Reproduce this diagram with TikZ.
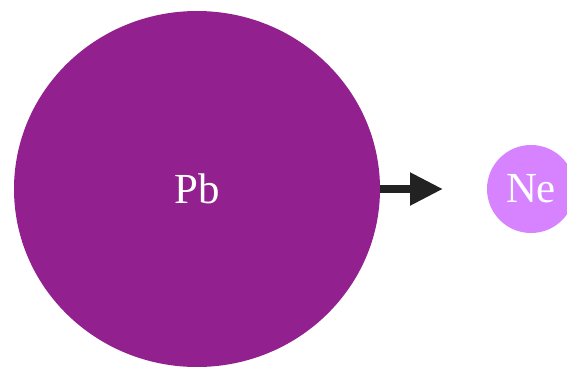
\documentclass[tikz,border=0pt]{standalone}
\usepackage{fontspec}
\setmainfont{Liberation Serif}
\usetikzlibrary{arrows.meta,shapes.geometric}
\definecolor{pbcol}{HTML}{93208F}
\definecolor{necol}{HTML}{D783FF}
\definecolor{arrcol}{HTML}{222222}
\tikzset{
  atom/.style={ellipse, fill=#1, text=white, inner sep=0pt, font=\fontsize{43}{46}\selectfont},
  link/.style={draw=arrcol, line width=8bp, -{Triangle[length=33bp,width=31bp]}}
}
\begin{document}
\begin{tikzpicture}[x=1bp,y=-1bp]
\useasboundingbox (0,0) rectangle (567,366);
\clip (0,0) rectangle (567,366);
\node[atom=pbcol, minimum width=366bp, minimum height=356bp] (pb) at (197,189) {Pb};
\node[atom=necol, minimum width=88bp, minimum height=88bp] (ne) at (531,189) {Ne};
\coordinate (tip) at (443,189);
\draw[link] (pb.east) -- (tip);
\end{tikzpicture}
\end{document}
